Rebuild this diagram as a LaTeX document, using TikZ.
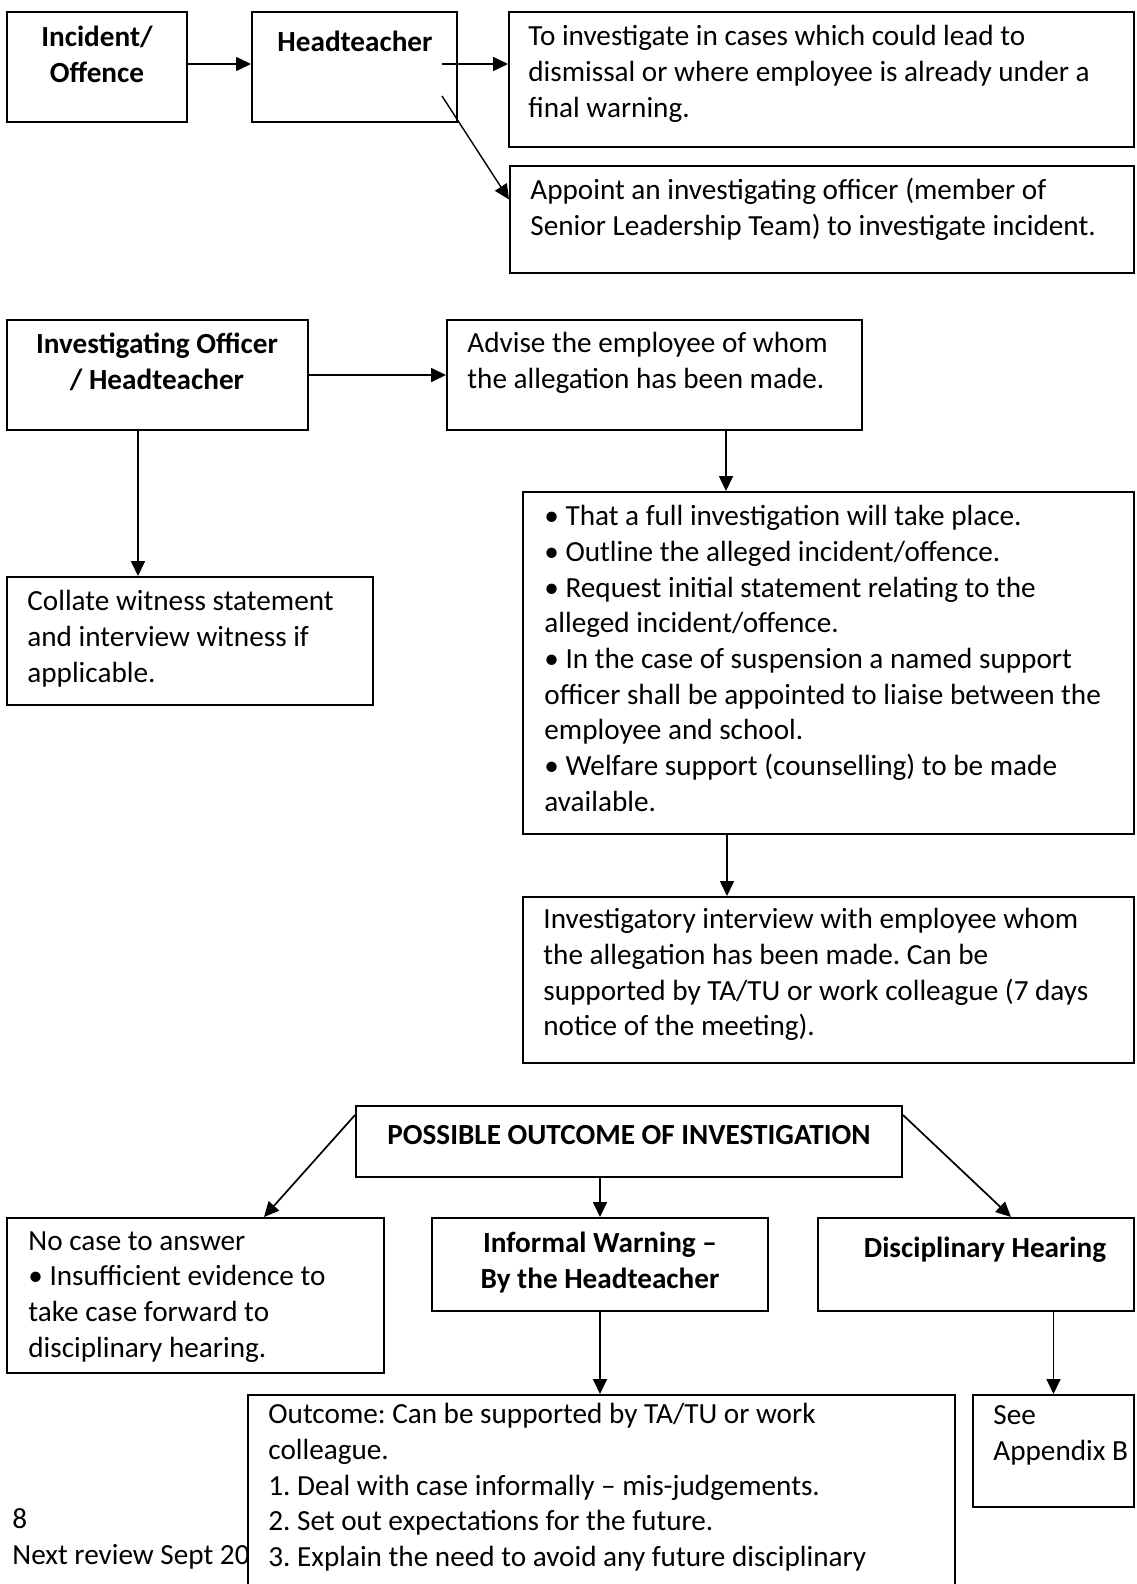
\documentclass[tikz,border=0pt]{standalone}
\usepackage{fontspec}
\setmainfont{Carlito}
\usetikzlibrary{arrows.meta,fit}

\newcommand{\bodyfont}{\fontsize{14.6pt}{17.85pt}\selectfont\frenchspacing}

\tikzset{
  box/.style={draw, line width=1pt, fill=white, inner sep=0pt},
  txt/.style={inner sep=0pt, anchor=north west, align=left, font=\bodyfont, execute at begin node=\strut},
  ttl/.style={inner sep=0pt, anchor=north, align=center, font=\bodyfont\bfseries, execute at begin node=\strut},
  arr/.style={line width=0.85pt, -{Triangle[length=7.5pt,width=7pt]}}
}

\begin{document}
\begin{tikzpicture}[x=0.5pt, y=-0.5pt]
  \useasboundingbox[fill=white] (0,0) rectangle (1136,1584);

  % first row
  \node[box, fit={(7,12) (187,122)}] (inc) {};
  \node[ttl] (inc-t) at (97,26) {Incident/\\Offence};
  \node[box, fit={(252,12) (457,122)}] (head) {};
  \node[ttl] (head-t) at (355,26) {Headteacher};
  \node[box, fit={(509,12) (1134,147)}] (inv) {};
  \node[txt] (inv-t) at (528,25) {To investigate in cases which could lead to\\dismissal or where employee is already under a\\final warning.};
  \node[box, fit={(510,166) (1134,273)}] (appoint) {};
  \node[txt] (appoint-t) at (530,178) {Appoint an investigating officer (member of\\Senior Leadership Team) to investigate incident.};
  \coordinate (hs1) at (442,64);
  \coordinate (hs2) at (442,96);

  \draw[arr] ([yshift=1.5pt]inc.east) -- ([yshift=1.5pt]inc.east -| head.west);
  \draw[arr] (hs1) -- (hs1 -| inv.west);
  \draw[arr, line width=0.7pt] (hs2) -- ([yshift=10pt]appoint.west);

  % second row
  \node[box, fit={(7,320) (308,430)}] (io) {};
  \node[ttl] (io-t) at (157,333) {Investigating Officer\\/ Headteacher};
  \node[box, fit={(447,320) (862,430)}] (advise) {};
  \node[txt] (advise-t) at (467,332) {Advise the employee of whom\\the allegation has been made.};
  \node[box, fit={(7,577) (373,705)}] (collate) {};
  \node[txt] (collate-t) at (27,590) {Collate witness statement\\and interview witness if\\applicable.};
  \node[box, fit={(523,492) (1134,834)}] (bul) {};
  \node[txt] (bul-t) at (544,505) {• That a full investigation will take place.\\• Outline the alleged incident/offence.\\• Request initial statement relating to the\\alleged incident/offence.\\• In the case of suspension a named support\\officer shall be appointed to liaise between the\\employee and school.\\• Welfare support (counselling) to be made\\available.};
  \node[box, fit={(523,897) (1134,1063)}] (interview) {};
  \node[txt] (interview-t) at (543,908) {Investigatory interview with employee whom\\the allegation has been made. Can be\\supported by TA/TU or work colleague (7 days\\notice of the meeting).};

  \draw[arr] (io.east) -- (io.east -| advise.west);
  \draw[arr] ([xshift=-9.75pt]io.south) -- ([xshift=-9.75pt]io.south |- collate.north);
  \draw[arr] ([xshift=35.75pt]advise.south) -- ([xshift=35.75pt]advise.south |- bul.north);
  \draw[arr] ([xshift=-50.75pt]bul.south) -- ([xshift=-50.75pt]bul.south |- interview.north);

  % outcomes
  \node[box, fit={(356,1106) (902,1177)}] (poss) {};
  \node[ttl] (poss-t) at (629,1119) {POSSIBLE OUTCOME OF INVESTIGATION};
  \node[box, fit={(7,1218) (384,1373)}] (nocase) {};
  \begin{scope}
    \clip (7,1218) rectangle (384,1362);
    \node[txt] (nocase-t) at (28,1231) {No case to answer\\• Insufficient evidence to\\take case forward to\\disciplinary hearing.};
  \end{scope}
  \node[box, fit={(432,1218) (768,1311)}] (informal) {};
  \node[ttl] (informal-t) at (600,1232) {Informal Warning –\\By the Headteacher};
  \node[box, fit={(818,1218) (1134,1311)}] (disc) {};
  \node[ttl] (disc-t) at (985,1232) {Disciplinary Hearing};
  \node[txt] (foot) at (12,1508) {8\\Next review Sept 20};
  \node[box, fit={(248,1395) (955,1600)}] (outcome) {};
  \node[txt] (outcome-t) at (268,1403) {Outcome: Can be supported by TA/TU or work\\colleague.\\1. Deal with case informally – mis-judgements.\\2. Set out expectations for the future.\\3. Explain the need to avoid any future disciplinary};
  \node[box, fit={(973,1395) (1134,1507)}] (see) {};
  \node[txt] (see-t) at (993,1405) {See\\Appendix B};

  \draw[arr] ([yshift=-5pt]poss.north west) -- ([xshift=34.25pt]nocase.north);
  \draw[arr] (informal.north |- poss.south) -- (informal.north);
  \draw[arr] ([yshift=-5pt]poss.north east) -- ([xshift=17.5pt]disc.north);
  \draw[arr] (informal.south) -- (informal.south |- outcome.north);
  \draw[arr] (see.north |- disc.south) -- (see.north);
\end{tikzpicture}
\end{document}
